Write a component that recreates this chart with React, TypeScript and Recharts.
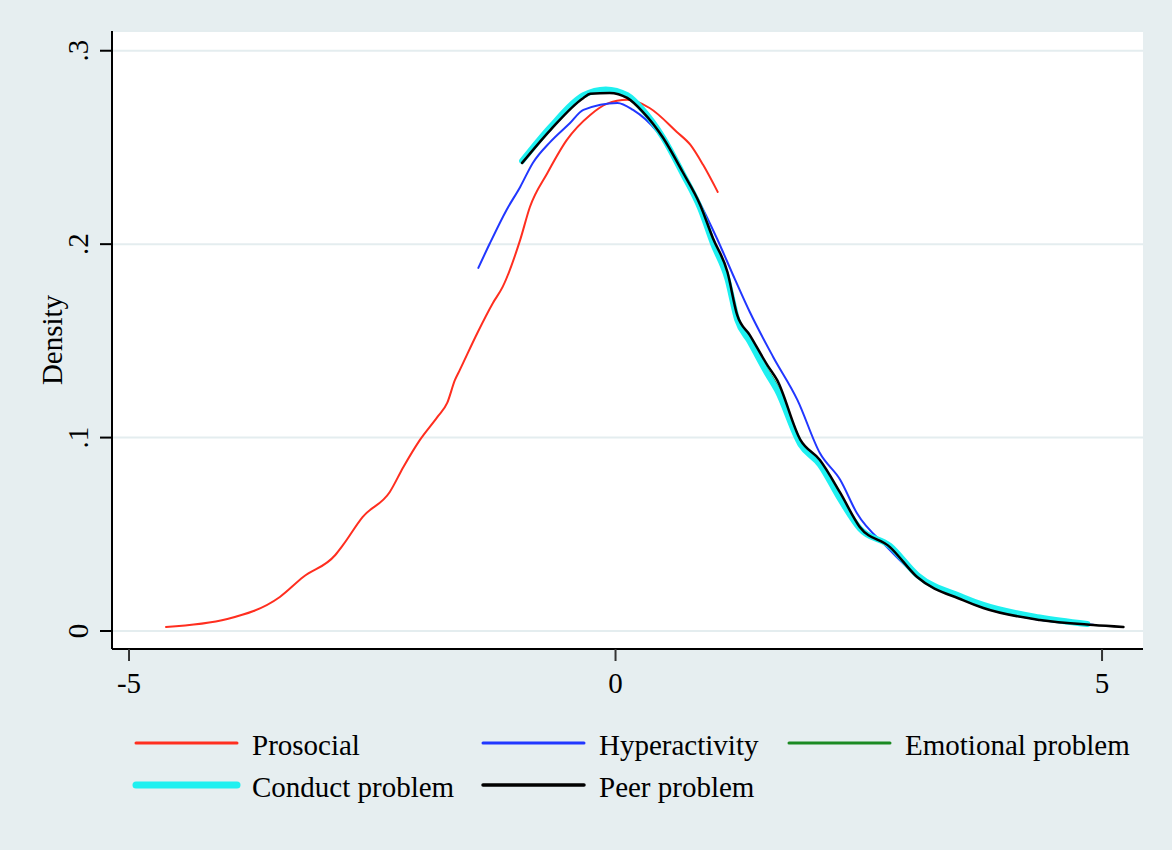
import React from 'react';
import { LineChart, Line, XAxis, YAxis, CartesianGrid } from 'recharts';

const FONT = '"Liberation Serif", "Times New Roman", serif';

const prosocialX = [-4.62, -3.99, -3.45, -3.21, -2.88, -2.80, -2.60, -2.32, -2.18, -2.01, -1.83, -1.73, -1.65, -1.60, -1.42, -1.26, -1.16, -0.98, -0.88, -0.70, -0.50, -0.26, -0.09, 0.12, 0.35, 0.63, 0.77, 0.90, 1.05];
const prosocialY = [0.0021, 0.0062, 0.0176, 0.0279, 0.0393, 0.0445, 0.0589, 0.0719, 0.0848, 0.0988, 0.1107, 0.1179, 0.1298, 0.1350, 0.1541, 0.1696, 0.1779, 0.2022, 0.2192, 0.2368, 0.2539, 0.2668, 0.2725, 0.2746, 0.2704, 0.2580, 0.2513, 0.2410, 0.2270];

const hyperX = [-1.41, -1.29, -1.12, -0.98, -0.85, -0.67, -0.47, -0.33, 0.02, 0.18, 0.43, 0.63, 0.84, 1.04, 1.23, 1.38, 1.62, 1.87, 2.10, 2.31, 2.48, 2.79, 3.10, 3.57, 3.78, 4.36, 4.91];
const hyperY = [0.1877, 0.2006, 0.2177, 0.2296, 0.2420, 0.2529, 0.2625, 0.2694, 0.2730, 0.2694, 0.2580, 0.2425, 0.2239, 0.2032, 0.1815, 0.1649, 0.1417, 0.1194, 0.0920, 0.0781, 0.0610, 0.0434, 0.0285, 0.0163, 0.0121, 0.0058, 0.0032];

const emotionalX = [-0.96, -0.67, -0.33, -0.10, 0.12, 0.28, 0.49, 0.69, 0.87, 1.00, 1.15, 1.25, 1.38, 1.56, 1.66, 1.90, 2.10, 2.31, 2.51, 2.82, 3.10, 3.57, 3.78, 4.36, 4.85];
const emotionalY = [0.2425, 0.2598, 0.2764, 0.2792, 0.2764, 0.2690, 0.2550, 0.2370, 0.2195, 0.2018, 0.1838, 0.1622, 0.1512, 0.1352, 0.1270, 0.0976, 0.0872, 0.0697, 0.0534, 0.0437, 0.0284, 0.0168, 0.0127, 0.0064, 0.0034];

const conductX = [-0.96, -0.67, -0.33, -0.10, 0.12, 0.28, 0.49, 0.69, 0.87, 1.00, 1.15, 1.25, 1.38, 1.56, 1.66, 1.90, 2.10, 2.31, 2.51, 2.82, 3.10, 3.57, 3.78, 4.36, 4.85];
const conductY = [0.2430, 0.2605, 0.2770, 0.2800, 0.2770, 0.2695, 0.2550, 0.2365, 0.2185, 0.2005, 0.1820, 0.1610, 0.1495, 0.1330, 0.1245, 0.0965, 0.0860, 0.0680, 0.0530, 0.0440, 0.0290, 0.0175, 0.0135, 0.0070, 0.0036];

const peerX = [-0.96, -0.67, -0.33, -0.26, -0.06, 0.12, 0.28, 0.49, 0.69, 0.87, 1.00, 1.15, 1.25, 1.38, 1.56, 1.66, 1.90, 2.10, 2.31, 2.51, 2.82, 3.10, 3.57, 3.78, 4.36, 4.91, 5.22];
const peerY = [0.2420, 0.2590, 0.2756, 0.2777, 0.2782, 0.2756, 0.2684, 0.2549, 0.2373, 0.2203, 0.2032, 0.1856, 0.1634, 0.1530, 0.1375, 0.1298, 0.0988, 0.0884, 0.0714, 0.0538, 0.0434, 0.0279, 0.0160, 0.0119, 0.0057, 0.0031, 0.0021];

const xTicks = [-5, 0, 5];
const yTicks = [0, 0.1, 0.2, 0.3];
const yTickLabels = ['0', '.1', '.2', '.3'];

const build = (xs: number[], ys: number[]) => xs.map((x, i) => ({ x, y: ys[i] }));

const series = [
  { name: 'Prosocial', data: build(prosocialX, prosocialY), color: '#ff2e1f', width: 2 },
  { name: 'Hyperactivity', data: build(hyperX, hyperY), color: '#2137ff', width: 2 },
  { name: 'Emotional problem', data: build(emotionalX, emotionalY), color: '#1b8a22', width: 2 },
  { name: 'Conduct problem', data: build(conductX, conductY), color: '#1ff0f0', width: 6 },
  { name: 'Peer problem', data: build(peerX, peerY), color: '#000000', width: 2.5 },
];

const legendItems = [
  { name: 'Prosocial', color: '#ff2e1f', width: 3, col: 0, row: 0 },
  { name: 'Hyperactivity', color: '#2137ff', width: 3, col: 1, row: 0 },
  { name: 'Emotional problem', color: '#1b8a22', width: 3, col: 2, row: 0 },
  { name: 'Conduct problem', color: '#1ff0f0', width: 7, col: 0, row: 1 },
  { name: 'Peer problem', color: '#000000', width: 3.5, col: 1, row: 1 },
];
const legendCols = [136, 483, 789];
const legendRows = [743, 785];

const YTick = (props: any) => {
  const { x, y, payload } = props;
  const idx = yTicks.indexOf(payload.value);
  const label = idx >= 0 ? yTickLabels[idx] : String(payload.value);
  const tx = x - 10;
  return (
    <text x={tx} y={y} transform={`rotate(-90, ${tx}, ${y})`} textAnchor="middle" fontFamily={FONT} fontSize={29} fill="#000">
      {label}
    </text>
  );
};

const XTick = (props: any) => {
  const { x, y, payload } = props;
  return (
    <text x={x} y={y + 30} textAnchor="middle" fontFamily={FONT} fontSize={29} fill="#000">
      {String(payload.value)}
    </text>
  );
};

const DensityLabel = (props: any) => {
  const vb = props.viewBox || { x: 0, y: 31, width: 112, height: 618 };
  const cx = vb.x + 62;
  const cy = vb.y + vb.height / 2;
  return (
    <text x={cx} y={cy} transform={`rotate(-90, ${cx}, ${cy})`} textAnchor="middle" fontFamily={FONT} fontSize={29} fill="#000">
      Density
    </text>
  );
};

export default function App() {
  return (
    <div style={{ position: 'absolute', left: 0, top: 0, width: 1172, height: 850, background: '#e6eef0', overflow: 'hidden' }}>
      <LineChart width={1172} height={850} margin={{ top: 31, right: 29, bottom: 0, left: 0 }}>
        <CartesianGrid horizontal vertical={false} fill="#ffffff" stroke="#e4edef" strokeWidth={2} />
        <XAxis
          type="number"
          dataKey="x"
          domain={[-5.175, 5.421]}
          ticks={xTicks}
          allowDataOverflow
          height={201}
          axisLine={{ stroke: '#000', strokeWidth: 2 }}
          tickLine={{ stroke: '#333', strokeWidth: 2 }}
          tickSize={12}
          tick={<XTick />}
          interval={0}
        />
        <YAxis
          type="number"
          dataKey="y"
          domain={[-0.0093, 0.3102]}
          ticks={yTicks}
          allowDataOverflow
          width={112}
          axisLine={{ stroke: '#000', strokeWidth: 2 }}
          tickLine={{ stroke: '#000', strokeWidth: 2 }}
          tickSize={12}
          tick={<YTick />}
          interval={0}
          label={{ content: <DensityLabel /> }}
        />
        {series.map((s) => (
          <Line
            key={s.name}
            data={s.data}
            dataKey="y"
            name={s.name}
            type="monotone"
            stroke={s.color}
            strokeWidth={s.width}
            dot={false}
            activeDot={false}
            isAnimationActive={false}
            strokeLinejoin="round"
            strokeLinecap="round"
          />
        ))}
      </LineChart>
      <svg width={1172} height={850} style={{ position: 'absolute', left: 0, top: 0, pointerEvents: 'none' }}>
        {legendItems.map((it) => {
          const x0 = legendCols[it.col];
          const y0 = legendRows[it.row];
          return (
            <g key={it.name}>
              <line x1={x0} x2={x0 + 101} y1={y0} y2={y0} stroke={it.color} strokeWidth={it.width} strokeLinecap="round" />
              <text x={x0 + 116} y={y0 + 12} fontFamily={FONT} fontSize={29} fill="#000">
                {it.name}
              </text>
            </g>
          );
        })}
      </svg>
    </div>
  );
}
